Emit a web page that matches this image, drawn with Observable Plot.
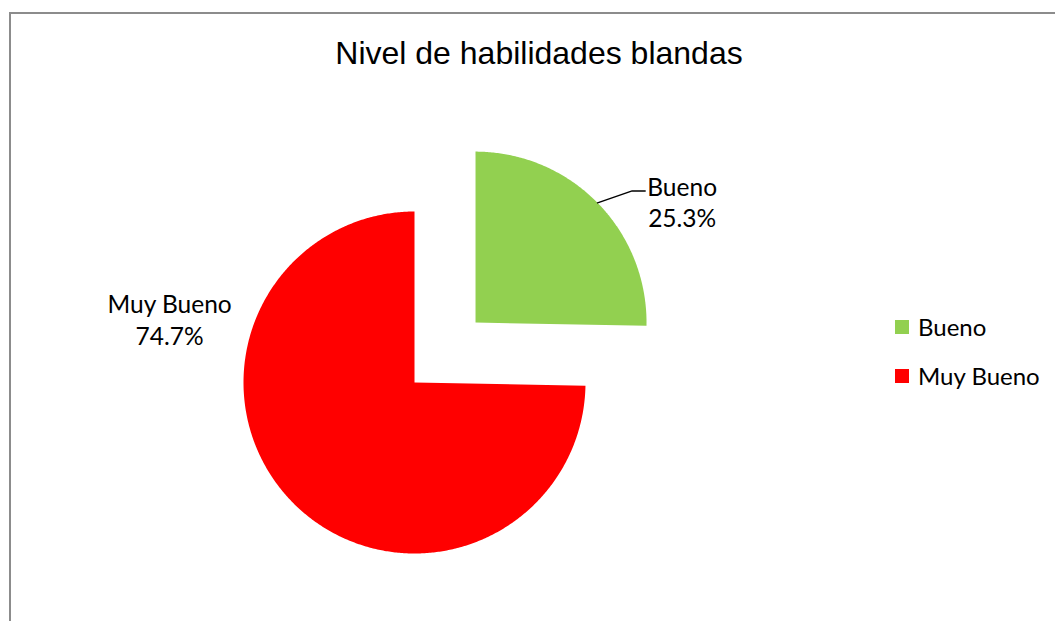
<!DOCTYPE html>
<html>
<head>
<meta charset="utf-8">
<script src="https://cdn.jsdelivr.net/npm/d3@7"></script>
<script src="https://cdn.jsdelivr.net/npm/@observablehq/plot@0.6"></script>
<style>
  html, body { margin: 0; padding: 0; background: #fff; }
  #wrap { position: relative; width: 1055px; height: 621px; overflow: hidden; background: #fff; }
  #frame { position: absolute; left: 9px; top: 12px; width: 1100px; height: 700px; border: 2px solid #8c8c8c; box-sizing: border-box; pointer-events: none; }
  #title { position: relative; height: 80px; font-family: "Liberation Sans", Arial, sans-serif; font-size: 32px; color: #000; text-align: center; padding-left: 23px; line-height: 32px; box-sizing: border-box; padding-top: 37px; }
  #legend { position: absolute; left: 895px; top: 302px; font-family: Lato, "Open Sans", sans-serif; font-size: 24px; color: #000; }
  .item { display: flex; align-items: center; height: 49px; }
  .sw { width: 14px; height: 14px; margin-right: 9px; }
  #chart { position: absolute; left: 0; top: 80px; }
</style>
</head>
<body>
<div id="wrap">
  <div id="frame"></div>
  <div id="title"></div>
  <div id="chart"></div>
  <div id="legend"></div>
</div>
<script>
// ---- data ----
const categories = ["Bueno", "Muy Bueno"];
const values = [25.3, 74.7];
const percentLabels = ["25.3%", "74.7%"];
const colors = ["#92D050", "#FF0000"];
const title = "Nivel de habilidades blandas";

// ---- layout (pixels / units) ----
const W = 1055, H = 541;
const R = 171;                 // pie radius in px
const CX = 414, CY = 302;      // pie centre in px (svg coords)
const explode = [0.5, 0];      // explosion per slice, in radius units
const labelPolar = [[59.6, 1.401], [284.6, 1.48]]; // label angle (deg, clockwise from 12h) & radius (units)

document.getElementById("title").textContent = title;

const data = categories.map((name, i) => ({name, value: values[i]}));
const arcs = d3.pie().sort(null).value(d => d.value)(data);

const slicePts = [];
const labels = [];
const leader = [];
arcs.forEach((a, i) => {
  const mid = (a.startAngle + a.endAngle) / 2;
  const ox = explode[i] * Math.sin(mid), oy = explode[i] * Math.cos(mid);
  const name = a.data.name;
  slicePts.push({name, x: ox, y: oy});
  const n = Math.max(2, Math.ceil((a.endAngle - a.startAngle) / (Math.PI / 360)));
  for (let k = 0; k <= n; k++) {
    const t = a.startAngle + (a.endAngle - a.startAngle) * k / n;
    slicePts.push({name, x: ox + Math.sin(t), y: oy + Math.cos(t)});
  }
  slicePts.push({name, x: ox, y: oy});
  const la = labelPolar[i][0] * Math.PI / 180, lr = labelPolar[i][1];
  const lx = ox + lr * Math.sin(la), ly = oy + lr * Math.cos(la);
  labels.push({x: lx, y: ly, text: name + "\n" + percentLabels[i]});
  if (i === 0) {
    leader.push({x: ox + Math.sin(mid), y: oy + Math.cos(mid)});
    leader.push({x: lx - 50 / R, y: ly + 10.5 / R});
    leader.push({x: lx - 37 / R, y: ly + 10.5 / R});
  }
});

const chart = Plot.plot({
  width: W,
  height: H,
  margin: 0,
  x: {domain: [-CX / R, (W - CX) / R], axis: null},
  y: {domain: [-(H - CY) / R, CY / R], axis: null},
  color: {domain: categories, range: colors},
  marks: [
    Plot.line(slicePts, {x: "x", y: "y", z: "name", fill: "name", stroke: "none", curve: "linear"}),
    Plot.line(leader, {x: "x", y: "y", stroke: "#000", strokeWidth: 1.5}),
    Plot.text(labels, {x: "x", y: "y", text: "text", fontSize: 24.5, fontFamily: "Lato, 'Open Sans', sans-serif", lineHeight: 1.3, fill: "#000", textAnchor: "middle"})
  ]
});
document.getElementById("chart").appendChild(chart);

const legend = document.getElementById("legend");
categories.forEach((c, i) => {
  const it = document.createElement("div");
  it.className = "item";
  const sw = document.createElement("div");
  sw.className = "sw";
  sw.style.background = colors[i];
  const tx = document.createElement("span");
  tx.textContent = c;
  it.appendChild(sw); it.appendChild(tx);
  legend.appendChild(it);
});
</script>
</body>
</html>
